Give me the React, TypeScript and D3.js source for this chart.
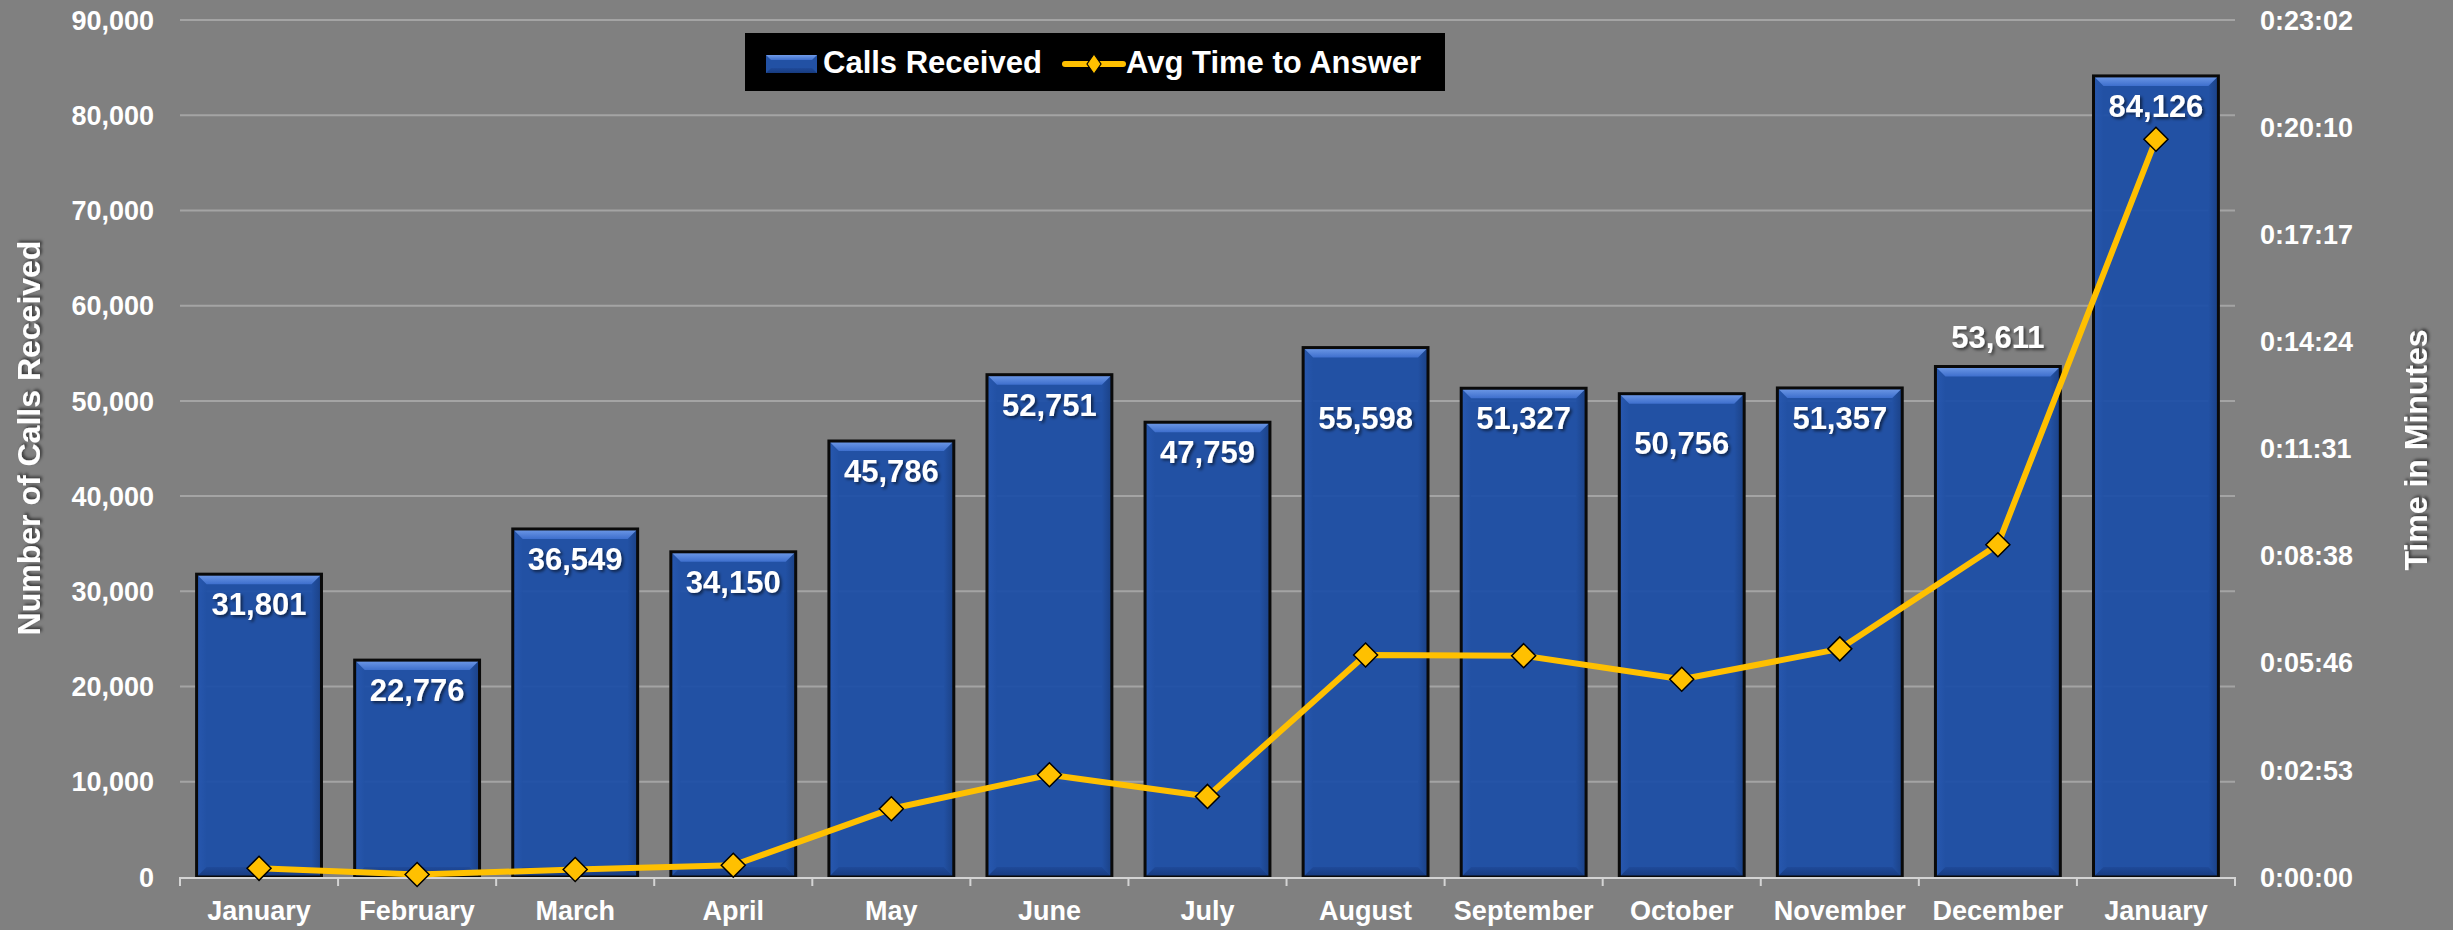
import React from 'react'
import * as d3 from 'd3'

const months = [
  'January', 'February', 'March', 'April', 'May', 'June', 'July',
  'August', 'September', 'October', 'November', 'December', 'January',
]
const callsReceived = [31801, 22776, 36549, 34150, 45786, 52751, 47759, 55598, 51327, 50756, 51357, 53611, 84126]
// avg time to answer, in seconds
const avgAnswerSeconds = [14, 4, 12, 19, 110, 165, 130, 358, 357, 319, 368, 536, 1190]

const callTicks = [0, 10000, 20000, 30000, 40000, 50000, 60000, 70000, 80000, 90000]
const timeTicks = [0, 172.8, 345.6, 518.4, 691.2, 864, 1036.8, 1209.6, 1382.4]

const W = 2453
const H = 930
const FONT = '"Liberation Sans", Arial, sans-serif'

function fmtTime(sec: number) {
  const s = Math.round(sec)
  const h = Math.floor(s / 3600)
  const m = Math.floor((s % 3600) / 60)
  const r = s % 60
  return `${h}:${String(m).padStart(2, '0')}:${String(r).padStart(2, '0')}`
}

const fmtNum = d3.format(',')

export default function App() {
  const left = 180
  const right = 2235
  const top = 20
  const bottom = 877

  const x = d3.scaleBand<number>()
    .domain(months.map((_, i) => i))
    .range([left, right])
    .paddingInner(0.21)
    .paddingOuter(0.105)
  const yCalls = d3.scaleLinear().domain([0, 90000]).range([bottom, top])
  const yTime = d3.scaleLinear().domain([0, 1382.4]).range([bottom, top])

  const step = x.step()
  const bw = x.bandwidth()
  const cx = (i: number) => (x(i) ?? 0) + bw / 2

  const line = d3.line<number>()
    .x((_, i) => cx(i))
    .y((d) => yTime(d))

  // label nudges (px below the default inside-end spot)
  const labelNudge: Record<number, number> = { 7: 40, 9: 19, 11: -60 }

  const b = 10 // bevel size

  return (
    <svg width={W} height={H} style={{ position: 'absolute', left: 0, top: 0, display: 'block' }} fontFamily={FONT} fontWeight="bold">
      <defs>
        <filter id="shadow" x="-20%" y="-20%" width="140%" height="160%">
          <feDropShadow dx="2" dy="2" stdDeviation="1.5" floodColor="#000" floodOpacity="0.55" />
        </filter>
        <linearGradient id="bevTop" x1="0" y1="0" x2="0" y2="1">
          <stop offset="0" stopColor="#709BE8" />
          <stop offset="1" stopColor="#3E6FCD" />
        </linearGradient>
        <linearGradient id="bevBot" x1="0" y1="0" x2="0" y2="1">
          <stop offset="0" stopColor="#1F4A9A" />
          <stop offset="1" stopColor="#173B7E" />
        </linearGradient>
        <linearGradient id="bevL" x1="0" y1="0" x2="1" y2="0">
          <stop offset="0" stopColor="#2A5BB5" />
          <stop offset="1" stopColor="#2251A4" />
        </linearGradient>
        <linearGradient id="bevR" x1="0" y1="0" x2="1" y2="0">
          <stop offset="0" stopColor="#2251A4" />
          <stop offset="1" stopColor="#1A3F82" />
        </linearGradient>
      </defs>

      <rect x={0} y={0} width={W} height={H} fill="#808080" />

      {/* gridlines */}
      {callTicks.filter((t) => t > 0).map((t) => (
        <line key={t} x1={left} x2={right} y1={yCalls(t)} y2={yCalls(t)} stroke="#A4A4A4" strokeWidth={2} />
      ))}

      {/* bars */}
      {callsReceived.map((v, i) => {
        const x0 = x(i) ?? 0
        const x1 = x0 + bw
        const y0 = yCalls(v)
        const y1 = bottom
        return (
          <g key={i}>
            <rect x={x0} y={y0} width={bw} height={y1 - y0} fill="#1B4EA7" fillOpacity={0.93} />
            <polygon points={`${x0},${y0} ${x0 + b},${y0 + b} ${x0 + b},${y1 - b} ${x0},${y1}`} fill="url(#bevL)" opacity={0.7} />
            <polygon points={`${x1},${y0} ${x1 - b},${y0 + b} ${x1 - b},${y1 - b} ${x1},${y1}`} fill="url(#bevR)" opacity={0.9} />
            <polygon points={`${x0},${y1} ${x0 + b},${y1 - b} ${x1 - b},${y1 - b} ${x1},${y1}`} fill="url(#bevBot)" />
            <polygon points={`${x0},${y0} ${x1},${y0} ${x1 - b},${y0 + b} ${x0 + b},${y0 + b}`} fill="url(#bevTop)" />
            <rect x={x0} y={y0} width={bw} height={y1 - y0} fill="none" stroke="#0A0A0A" strokeWidth={3} />
          </g>
        )
      })}

      {/* x axis */}
      <line x1={left} x2={right} y1={bottom + 1} y2={bottom + 1} stroke="#D4D4D4" strokeWidth={2} />
      {d3.range(0, months.length + 1).map((i) => (
        <line key={i} x1={left + i * step} x2={left + i * step} y1={bottom} y2={bottom + 9} stroke="#D4D4D4" strokeWidth={2} />
      ))}
      {months.map((m, i) => (
        <text key={i} x={cx(i)} y={920} textAnchor="middle" fontSize={27} fill="#fff">{m}</text>
      ))}

      {/* left axis labels */}
      {callTicks.map((t) => (
        <text key={t} x={154} y={yCalls(t)} dy="0.36em" textAnchor="end" fontSize={27} fill="#fff">{fmtNum(t)}</text>
      ))}
      {/* right axis labels */}
      {timeTicks.map((t) => (
        <text key={t} x={2260} y={yTime(t)} dy="0.36em" textAnchor="start" fontSize={27} fill="#fff">{fmtTime(t)}</text>
      ))}

      {/* axis titles */}
      <text transform={`translate(28,${438}) rotate(-90)`} textAnchor="middle" dy="0.36em" fontSize={32} fill="#fff" filter="url(#shadow)">Number of Calls Received</text>
      <text transform={`translate(2415,${450}) rotate(-90)`} textAnchor="middle" dy="0.36em" fontSize={32} fill="#fff" filter="url(#shadow)">Time in Minutes</text>

      {/* data labels */}
      {callsReceived.map((v, i) => (
        <text key={i} x={cx(i)} y={yCalls(v) + 30 + (labelNudge[i] ?? 0)} dy="0.36em" textAnchor="middle" fontSize={31} fill="#fff" filter="url(#shadow)">{fmtNum(v)}</text>
      ))}

      {/* avg time line */}
      <path d={line(avgAnswerSeconds) ?? ''} fill="none" stroke="#FFC000" strokeWidth={6} strokeLinejoin="round" />
      {avgAnswerSeconds.map((v, i) => (
        <path key={i} transform={`translate(${cx(i)},${yTime(v)})`} d="M0,-12L12,0L0,12L-12,0Z" fill="#FFC000" stroke="#000" strokeWidth={1.5} />
      ))}

      {/* legend */}
      <g>
        <rect x={745} y={33} width={700} height={58} fill="#000" />
        <rect x={766} y={55} width={51} height={18} fill="#2251A4" />
        <polygon points="766,55 817,55 812,60 771,60" fill="url(#bevTop)" />
        <polygon points="766,73 817,73 812,68 771,68" fill="url(#bevBot)" />
        <text x={823} y={73} fontSize={31} fill="#fff">Calls Received</text>
        <line x1={1065} x2={1123} y1={64} y2={64} stroke="#FFC000" strokeWidth={6} strokeLinecap="round" />
        <path transform="translate(1094,64)" d="M0,-10L7,0L0,10L-7,0Z" fill="#FFC000" stroke="#000" strokeWidth={1.2} />
        <text x={1126} y={73} fontSize={31} fill="#fff">Avg Time to Answer</text>
      </g>
    </svg>
  )
}
